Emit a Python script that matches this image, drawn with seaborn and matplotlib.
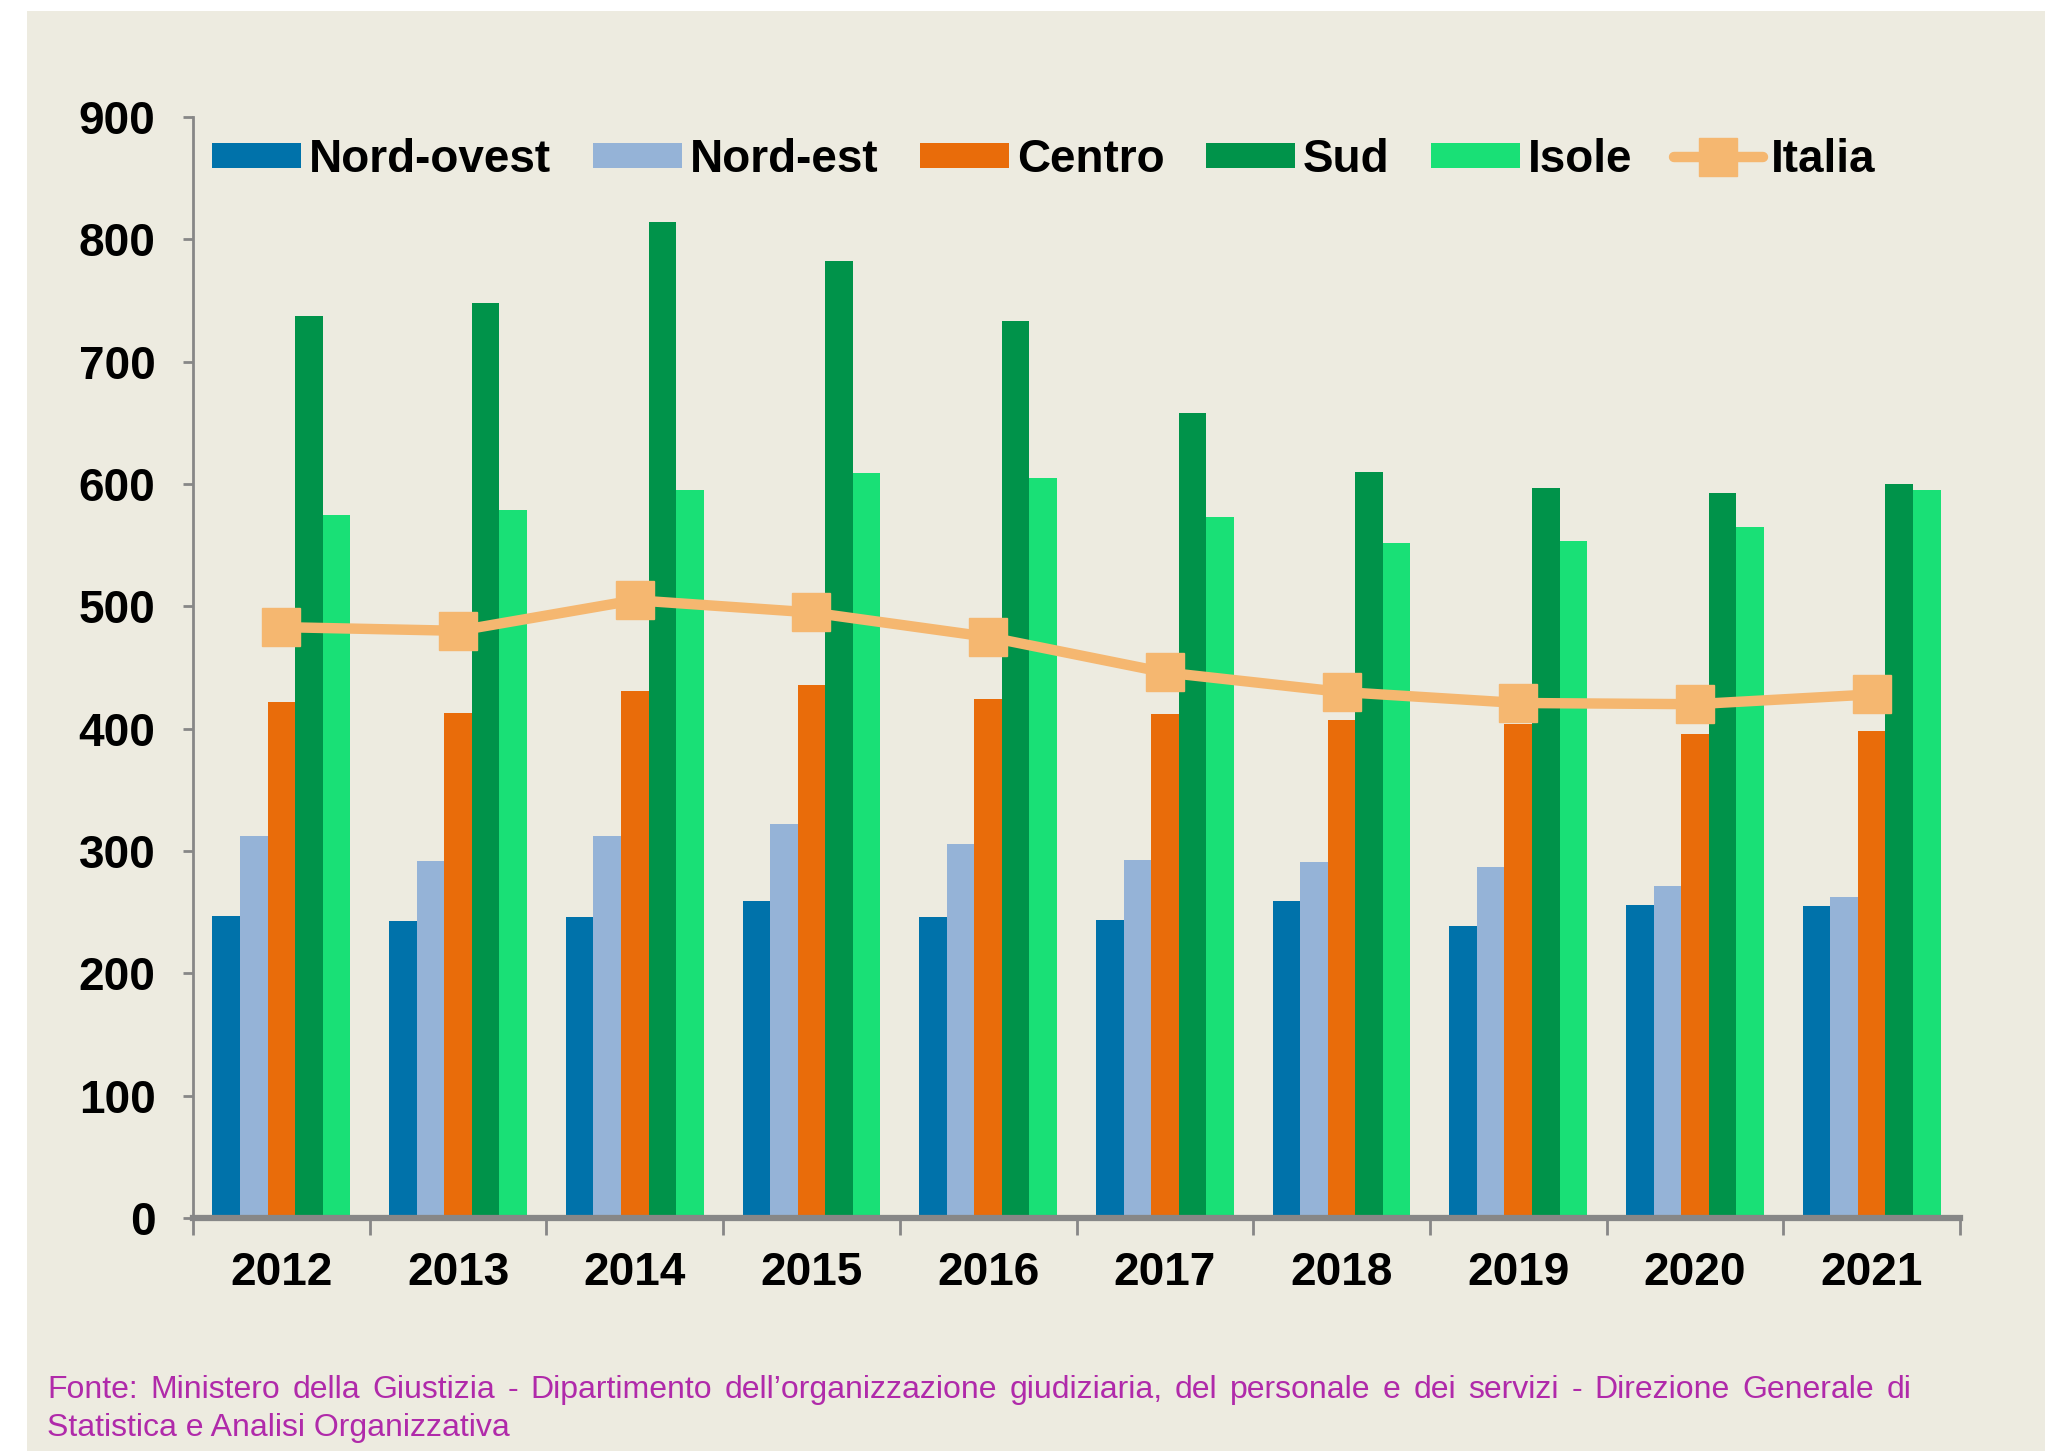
import matplotlib
matplotlib.use("Agg")
import matplotlib.pyplot as plt
import numpy as np
import pandas as pd
import seaborn as sns
from matplotlib.lines import Line2D
from matplotlib.patches import Patch, Rectangle

# -----------------------------------------------------------------------------
# Dati
# -----------------------------------------------------------------------------
anni = ["2012", "2013", "2014", "2015", "2016", "2017", "2018", "2019", "2020", "2021"]
aree = ["Nord-ovest", "Nord-est", "Centro", "Sud", "Isole"]

nord_ovest = [247, 243, 246, 259, 246, 244, 259, 239, 256, 255]
nord_est = [312, 292, 312, 322, 306, 293, 291, 287, 271, 262]
centro = [422, 413, 431, 436, 424, 412, 407, 404, 396, 398]
sud = [737, 748, 814, 782, 733, 658, 610, 597, 593, 600]
isole = [575, 579, 595, 609, 605, 573, 552, 553, 565, 595]
italia = [483, 480, 505, 495, 475, 446, 430, 421, 420, 428]

colori = ["#0072AA", "#95B3D7", "#E96C0A", "#00934A", "#19E076"]
colore_italia = "#F5B770"
colore_asse = "#878787"
sfondo = "#EDEBE0"
colore_fonte = "#B02AAA"

fonte_riga1 = ("Fonte: Ministero della Giustizia - Dipartimento dell\u2019organizzazione giudiziaria, "
               "del personale e dei servizi - Direzione Generale di")
fonte_riga2 = "Statistica e Analisi Organizzativa"

df = pd.DataFrame({
    "Anno": np.repeat(anni, len(aree)),
    "Area": aree * len(anni),
    "Valore": np.column_stack([nord_ovest, nord_est, centro, sud, isole]).ravel(),
})

# -----------------------------------------------------------------------------
# Figura
# -----------------------------------------------------------------------------
W, H = 2045, 1451
sns.set_theme(style="white")
plt.rcParams["font.family"] = ["Liberation Sans", "DejaVu Sans"]
plt.rcParams["text.color"] = "black"
plt.rcParams["xtick.color"] = "black"
plt.rcParams["ytick.color"] = "black"

fig = plt.figure(figsize=(W / 100, H / 100), dpi=100)
fig.patch.set_facecolor("white")
fig.patches.append(Rectangle((27 / W, 0), 1, 1 - 11 / H, transform=fig.transFigure,
                             facecolor=sfondo, edgecolor="none", zorder=-10))

ax = fig.add_axes([193 / W, 233 / H, (1960 - 193) / W, (1334 - 233) / H])
ax.set_facecolor("none")

sns.barplot(data=df, x="Anno", y="Valore", hue="Area", hue_order=aree, order=anni,
            palette=colori, saturation=1, width=0.78, gap=0, linewidth=0,
            ax=ax, legend=False)

ax.plot(np.arange(len(anni)), italia, color=colore_italia, linewidth=7.5,
        marker="s", markersize=28, markeredgecolor=colore_italia, zorder=5)

ax.set_xlim(-0.5, len(anni) - 0.5)
ax.set_ylim(0, 900)
ax.set_yticks(range(0, 901, 100))
ax.set_xlabel("")
ax.set_ylabel("")

for s in ["top", "right"]:
    ax.spines[s].set_visible(False)
ax.spines["left"].set_color(colore_asse)
ax.spines["left"].set_linewidth(2)
ax.spines["bottom"].set_color(colore_asse)
ax.spines["bottom"].set_linewidth(4.5)
ax.spines["bottom"].set_zorder(6)

ax.set_xticks(np.arange(len(anni)))
ax.set_xticklabels(anni)
ax.set_xticks(np.arange(-0.5, len(anni)), minor=True)
ax.tick_params(axis="x", which="major", length=0, pad=24, labelsize=33, labelcolor="black")
ax.tick_params(axis="x", which="minor", bottom=True, length=12, width=2, color=colore_asse, direction="out")
ax.tick_params(axis="y", left=True, length=7, width=2, color=colore_asse, pad=20,
               labelsize=33, labelcolor="black")
for lab in ax.get_xticklabels() + ax.get_yticklabels():
    lab.set_fontweight("bold")

# Legenda
handles = [Patch(facecolor=c, edgecolor="none") for c in colori]
handles.append(Line2D([0], [0], color=colore_italia, linewidth=7.5, marker="s",
                      markersize=28, markeredgecolor=colore_italia))
leg = ax.legend(handles, aree + ["Italia"], ncol=6, frameon=False,
                loc="center left", bbox_to_anchor=(212 / W, 1 - 160 / H),
                bbox_transform=fig.transFigure, prop={"size": 33, "weight": "bold"},
                handlelength=1.95, handleheight=0.48, handletextpad=0.17, columnspacing=0.9,
                borderaxespad=0, borderpad=0)
for t in leg.get_texts():
    t.set_color("black")

# Fonte: prima riga giustificata come nell'originale
x0, x1 = 47, 1911
fig.text(x0 / W, 1 - 1436 / H, fonte_riga2, fontsize=23, color=colore_fonte,
         ha="left", va="baseline")
parole = fonte_riga1.split(" ")
renderer = fig.canvas.get_renderer()
testi = [fig.text(0, 1 - 1398 / H, p, fontsize=23, color=colore_fonte, ha="left", va="baseline")
         for p in parole]
larghezze = [t.get_window_extent(renderer).width for t in testi]
spazio = (x1 - x0 - sum(larghezze)) / (len(parole) - 1)
x = x0
for t, w in zip(testi, larghezze):
    t.set_x(x / W)
    x += w + spazio

fig.savefig("out.png", dpi=100, facecolor=fig.get_facecolor())
